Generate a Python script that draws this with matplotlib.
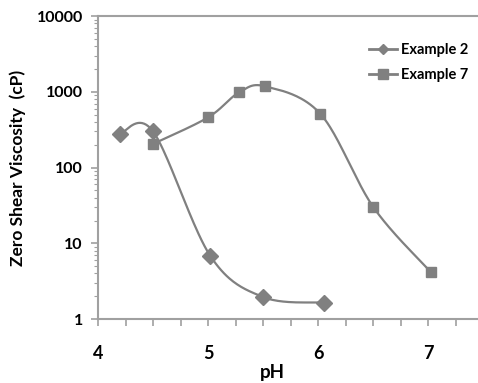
import numpy as np
import matplotlib
matplotlib.use("Agg")
import matplotlib.pyplot as plt
from matplotlib.ticker import MultipleLocator, FixedLocator, FuncFormatter, LogLocator, NullFormatter

plt.rcParams['font.family'] = ['Lato', 'DejaVu Sans']

ex2_ph = [4.2, 4.5, 5.02, 5.5, 6.05]
ex2_visc = [280, 300, 6.8, 1.95, 1.65]
ex7_ph = [4.5, 5.0, 5.28, 5.52, 6.02, 6.5, 7.02]
ex7_visc = [205, 460, 980, 1180, 510, 30, 4.2]
x_ticks = [4, 5, 6, 7]
y_ticks = [1, 10, 100, 1000, 10000]

GREY = '#808080'


def smooth(xs, ys, n=40):
    x = np.asarray(xs, float)
    y = np.log10(np.asarray(ys, float))
    P = np.column_stack([x, y])
    P = np.vstack([P[0], P, P[-1]])
    out = []
    t = np.linspace(0, 1, n)[:, None]
    for i in range(1, len(P) - 2):
        p0, p1, p2, p3 = P[i - 1], P[i], P[i + 1], P[i + 2]
        c1 = p1 + (p2 - p0) / 6.0
        c2 = p2 - (p3 - p1) / 6.0
        seg = ((1 - t) ** 3) * p1 + 3 * ((1 - t) ** 2) * t * c1 + 3 * (1 - t) * t ** 2 * c2 + t ** 3 * p2
        out.append(seg)
    S = np.vstack(out)
    return S[:, 0], 10 ** S[:, 1]


fig = plt.figure(figsize=(4.78, 3.83), dpi=100)
ax = fig.add_axes([0.205, 0.167, 0.795, 0.791])

sx, sy = smooth(ex2_ph, ex2_visc)
ax.plot(sx, sy, color=GREY, lw=1.6, zorder=2)
ax.plot(ex2_ph, ex2_visc, ls='none', marker='D', ms=8, color=GREY, zorder=3)
sx, sy = smooth(ex7_ph, ex7_visc)
ax.plot(sx, sy, color=GREY, lw=1.6, zorder=2)
ax.plot(ex7_ph, ex7_visc, ls='none', marker='s', ms=7.5, color=GREY, zorder=3)

# legend handles
ax.plot([], [], color=GREY, lw=2, marker='D', ms=5, label='Example 2')
ax.plot([], [], color=GREY, lw=2, marker='s', ms=7, label='Example 7')
leg = ax.legend(loc='upper right', bbox_to_anchor=(1.01, 0.955), frameon=False,
                prop={'weight': 'bold', 'size': 10.5}, handlelength=1.9,
                handletextpad=0.3, labelspacing=0.75)

ax.set_yscale('log')
ax.set_ylim(1, 10000)
ax.set_xlim(4, 7.45)
ax.yaxis.set_major_locator(FixedLocator(y_ticks))
ax.yaxis.set_major_formatter(FuncFormatter(lambda v, p: f"{int(round(v))}"))
ax.yaxis.set_minor_locator(LogLocator(base=10, subs=np.arange(2, 10)))
ax.yaxis.set_minor_formatter(NullFormatter())
ax.xaxis.set_major_locator(FixedLocator(x_ticks))
ax.xaxis.set_minor_locator(MultipleLocator(0.25))

for s in ['left', 'bottom', 'top']:
    ax.spines[s].set_color('#a0a0a0')
    ax.spines[s].set_linewidth(1.5)
ax.spines['right'].set_visible(False)

ax.tick_params(axis='both', which='both', direction='out', color='#a0a0a0')
ax.tick_params(axis='y', which='major', length=5, width=1.2, labelsize=11.5, pad=6)
ax.tick_params(axis='y', which='minor', length=3, width=0.8)
ax.tick_params(axis='x', which='major', length=5, width=1.2, labelsize=13, pad=13.5)
ax.tick_params(axis='x', which='minor', length=5, width=1.2)
for lab in ax.get_xticklabels() + ax.get_yticklabels():
    lab.set_fontweight('bold')

ax.set_xlabel('pH', fontsize=13.5, fontweight='bold', va='center')
ax.xaxis.set_label_coords(0.46, -0.175)
ax.set_ylabel('Zero Shear Viscosity  (cP)', fontsize=12.5, fontweight='bold', va='center')
ax.yaxis.set_label_coords(-0.21, 0.5)

fig.savefig('out.png', dpi=100)
